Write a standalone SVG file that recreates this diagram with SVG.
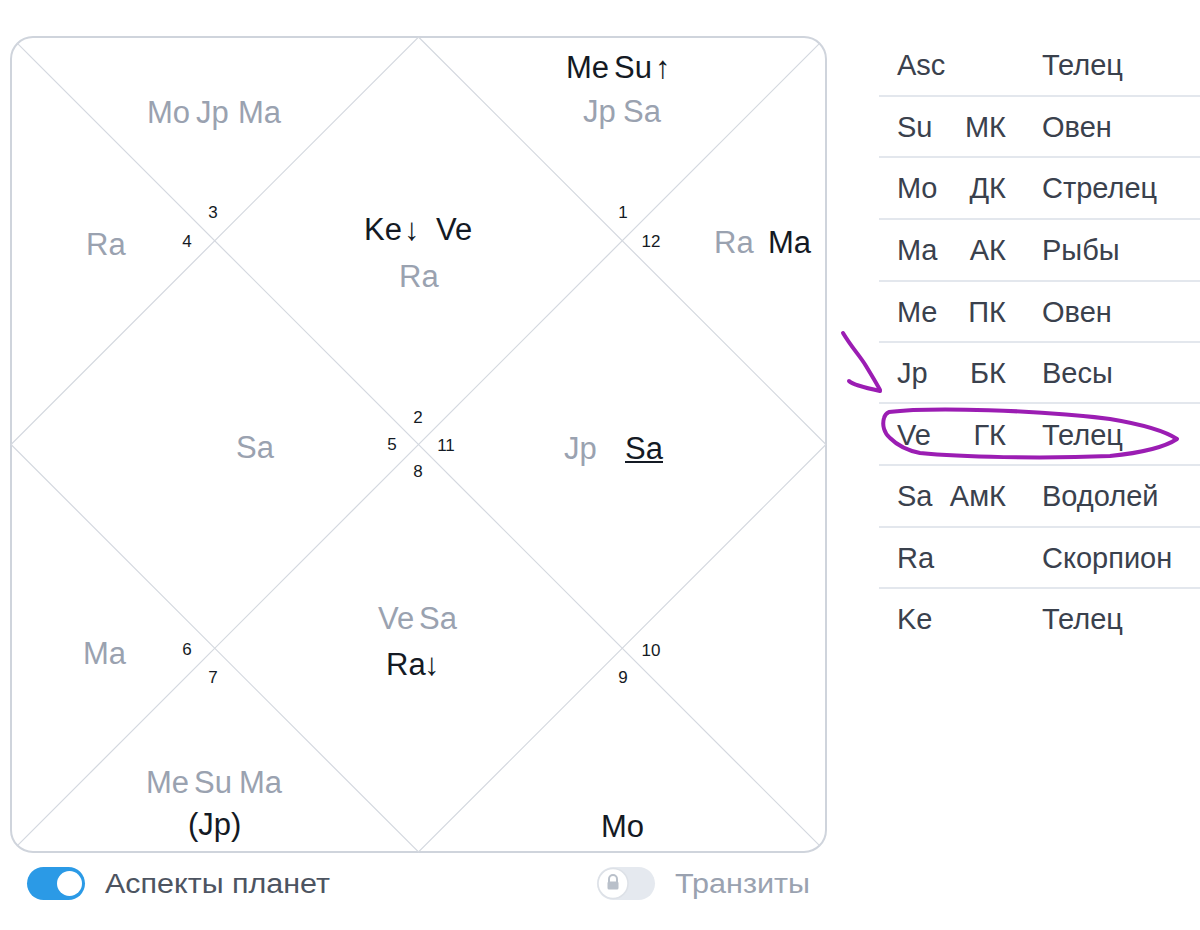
<svg xmlns="http://www.w3.org/2000/svg" width="1200" height="930" viewBox="0 0 1200 930">
<style>
  text { font-family: "Liberation Sans", "DejaVu Sans", sans-serif; }
  .p { font-size: 31px; }
  .g { fill: #9aa2b0; }
  .k { fill: #141a24; }
  .n { font-size: 17px; fill: #141a24; text-anchor: middle; }
  .t { font-size: 29px; fill: #3a414d; }
  .ln { stroke: #d4d8df; stroke-width: 1.2; fill: none; }
  .sep { stroke: #e3e7ed; stroke-width: 2; }
  .pen { stroke: #9b1db3; stroke-width: 4; fill: none; stroke-linecap: round; stroke-linejoin: round; }
</style>
<rect width="1200" height="930" fill="#ffffff"/>

<g id="chart-frame">
  <rect x="11" y="37" width="815" height="815" rx="22" ry="22" fill="#ffffff" stroke="#cfd4dc" stroke-width="2"/>
</g>
<g id="connectors">
  <line class="ln" x1="17.4" y1="43.4" x2="819.6" y2="845.6"/>
  <line class="ln" x1="819.6" y1="43.4" x2="17.4" y2="845.6"/>
  <polygon class="ln" points="418.5,37 826,444.5 418.5,852 11,444.5"/>
</g>

<g id="house-1">
  <text class="p k" x="566" y="78">Me</text>
  <text class="p k" x="614" y="78">Su</text>
  <text class="p k" x="655" y="78">↑</text>
  <text class="p g" x="583" y="122">Jp</text>
  <text class="p g" x="623" y="122">Sa</text>
  <text class="n" x="623" y="218">1</text>
</g>
<g id="house-2">
  <text class="p k" x="364" y="240">Ke</text>
  <text class="p k" x="404" y="240">↓</text>
  <text class="p k" x="436" y="240">Ve</text>
  <text class="p g" x="399" y="287">Ra</text>
  <text class="n" x="418" y="423">2</text>
</g>
<g id="house-3">
  <text class="p g" x="147" y="123">Mo</text>
  <text class="p g" x="196" y="123">Jp</text>
  <text class="p g" x="238" y="123">Ma</text>
  <text class="n" x="213" y="218">3</text>
</g>
<g id="house-4">
  <text class="p g" x="86" y="255">Ra</text>
  <text class="n" x="187" y="247">4</text>
</g>
<g id="house-5">
  <text class="p g" x="236" y="458">Sa</text>
  <text class="n" x="392" y="450">5</text>
</g>
<g id="house-6">
  <text class="p g" x="83" y="664">Ma</text>
  <text class="n" x="187" y="655">6</text>
</g>
<g id="house-7">
  <text class="p g" x="146" y="793">Me</text>
  <text class="p g" x="194" y="793">Su</text>
  <text class="p g" x="239" y="793">Ma</text>
  <text class="p k" x="188" y="835">(Jp)</text>
  <text class="n" x="213" y="683">7</text>
</g>
<g id="house-8">
  <text class="p g" x="378" y="629">Ve</text>
  <text class="p g" x="419" y="629">Sa</text>
  <text class="p k" x="386" y="675">Ra</text>
  <text class="p k" x="424" y="675">↓</text>
  <text class="n" x="418" y="477">8</text>
</g>
<g id="house-9">
  <text class="p k" x="601" y="837">Mo</text>
  <text class="n" x="623" y="683">9</text>
</g>
<g id="house-10">
  <text class="n" x="651" y="656">10</text>
</g>
<g id="house-11">
  <text class="p g" x="564" y="459">Jp</text>
  <text class="p k" x="625" y="459">Sa</text>
  <line x1="625" y1="462" x2="663" y2="462" stroke="#141a24" stroke-width="2"/>
  <text class="n" x="446" y="451">11</text>
</g>
<g id="house-12">
  <text class="p g" x="714" y="253">Ra</text>
  <text class="p k" x="768" y="253">Ma</text>
  <text class="n" x="651" y="247">12</text>
</g>

<g id="toggle-aspects">
  <rect x="27" y="867" width="58" height="33" rx="16.5" fill="#2b9ae6"/>
  <circle cx="69.5" cy="883.5" r="12.5" fill="#ffffff"/>
  <text x="105" y="893" font-size="27" fill="#4d5461" textLength="225" lengthAdjust="spacingAndGlyphs">Аспекты планет</text>
</g>
<g id="toggle-transits">
  <rect x="597" y="867" width="58" height="33" rx="16.5" fill="#e5e9ef"/>
  <circle cx="613" cy="883.5" r="15" fill="#ffffff" stroke="#dde1e7" stroke-width="1.5"/>
  <path d="M609,882 v-3 a4,4 0 0 1 8,0 v3" fill="none" stroke="#b9c0ca" stroke-width="2"/>
  <rect x="607.5" y="881.5" width="11" height="8" rx="1.5" fill="#b9c0ca"/>
  <text x="675" y="893" font-size="27" fill="#9aa2b0" textLength="135" lengthAdjust="spacingAndGlyphs">Транзиты</text>
</g>

<g id="table">
  <line class="sep" x1="879" y1="96" x2="1200" y2="96"/>
  <line class="sep" x1="879" y1="157" x2="1200" y2="157"/>
  <line class="sep" x1="879" y1="219" x2="1200" y2="219"/>
  <line class="sep" x1="879" y1="281" x2="1200" y2="281"/>
  <line class="sep" x1="879" y1="342" x2="1200" y2="342"/>
  <line class="sep" x1="879" y1="403" x2="1200" y2="403"/>
  <line class="sep" x1="879" y1="465" x2="1200" y2="465"/>
  <line class="sep" x1="879" y1="527" x2="1200" y2="527"/>
  <line class="sep" x1="879" y1="588" x2="1200" y2="588"/>

  <text class="t" x="897" y="75">Asc</text>
  <text class="t" x="1042" y="75">Телец</text>

  <text class="t" x="897" y="137">Su</text>
  <text class="t" x="1006" y="137" text-anchor="end">МК</text>
  <text class="t" x="1042" y="137">Овен</text>

  <text class="t" x="897" y="198">Mo</text>
  <text class="t" x="1006" y="198" text-anchor="end">ДК</text>
  <text class="t" x="1042" y="198">Стрелец</text>

  <text class="t" x="897" y="260">Ma</text>
  <text class="t" x="1006" y="260" text-anchor="end">АК</text>
  <text class="t" x="1042" y="260">Рыбы</text>

  <text class="t" x="897" y="322">Me</text>
  <text class="t" x="1006" y="322" text-anchor="end">ПК</text>
  <text class="t" x="1042" y="322">Овен</text>

  <text class="t" x="897" y="383">Jp</text>
  <text class="t" x="1006" y="383" text-anchor="end">БК</text>
  <text class="t" x="1042" y="383">Весы</text>

  <text class="t" x="897" y="445">Ve</text>
  <text class="t" x="1006" y="445" text-anchor="end">ГК</text>
  <text class="t" x="1042" y="445">Телец</text>

  <text class="t" x="897" y="506">Sa</text>
  <text class="t" x="1006" y="506" text-anchor="end">АмК</text>
  <text class="t" x="1042" y="506">Водолей</text>

  <text class="t" x="897" y="568">Ra</text>
  <text class="t" x="1042" y="568">Скорпион</text>

  <text class="t" x="897" y="629">Ke</text>
  <text class="t" x="1042" y="629">Телец</text>
</g>

<g id="annotation">
  <path class="pen" d="M843,333 C852,348 860,356 866,366 C872,376 877,384 880,390"/>
  <path class="pen" d="M849,381 C853,385 866,388 880,391"/>
  <path class="pen" d="M889,412 C930,407 1040,410 1110,419 C1140,424 1165,431 1177,439 C1165,447 1140,453 1110,456 C1040,459 960,457 920,453 C905,450 896,444 890,438 C884,433 882,425 884,418 C885,414 887,413 889,412 Z"/>
</g>
</svg>
